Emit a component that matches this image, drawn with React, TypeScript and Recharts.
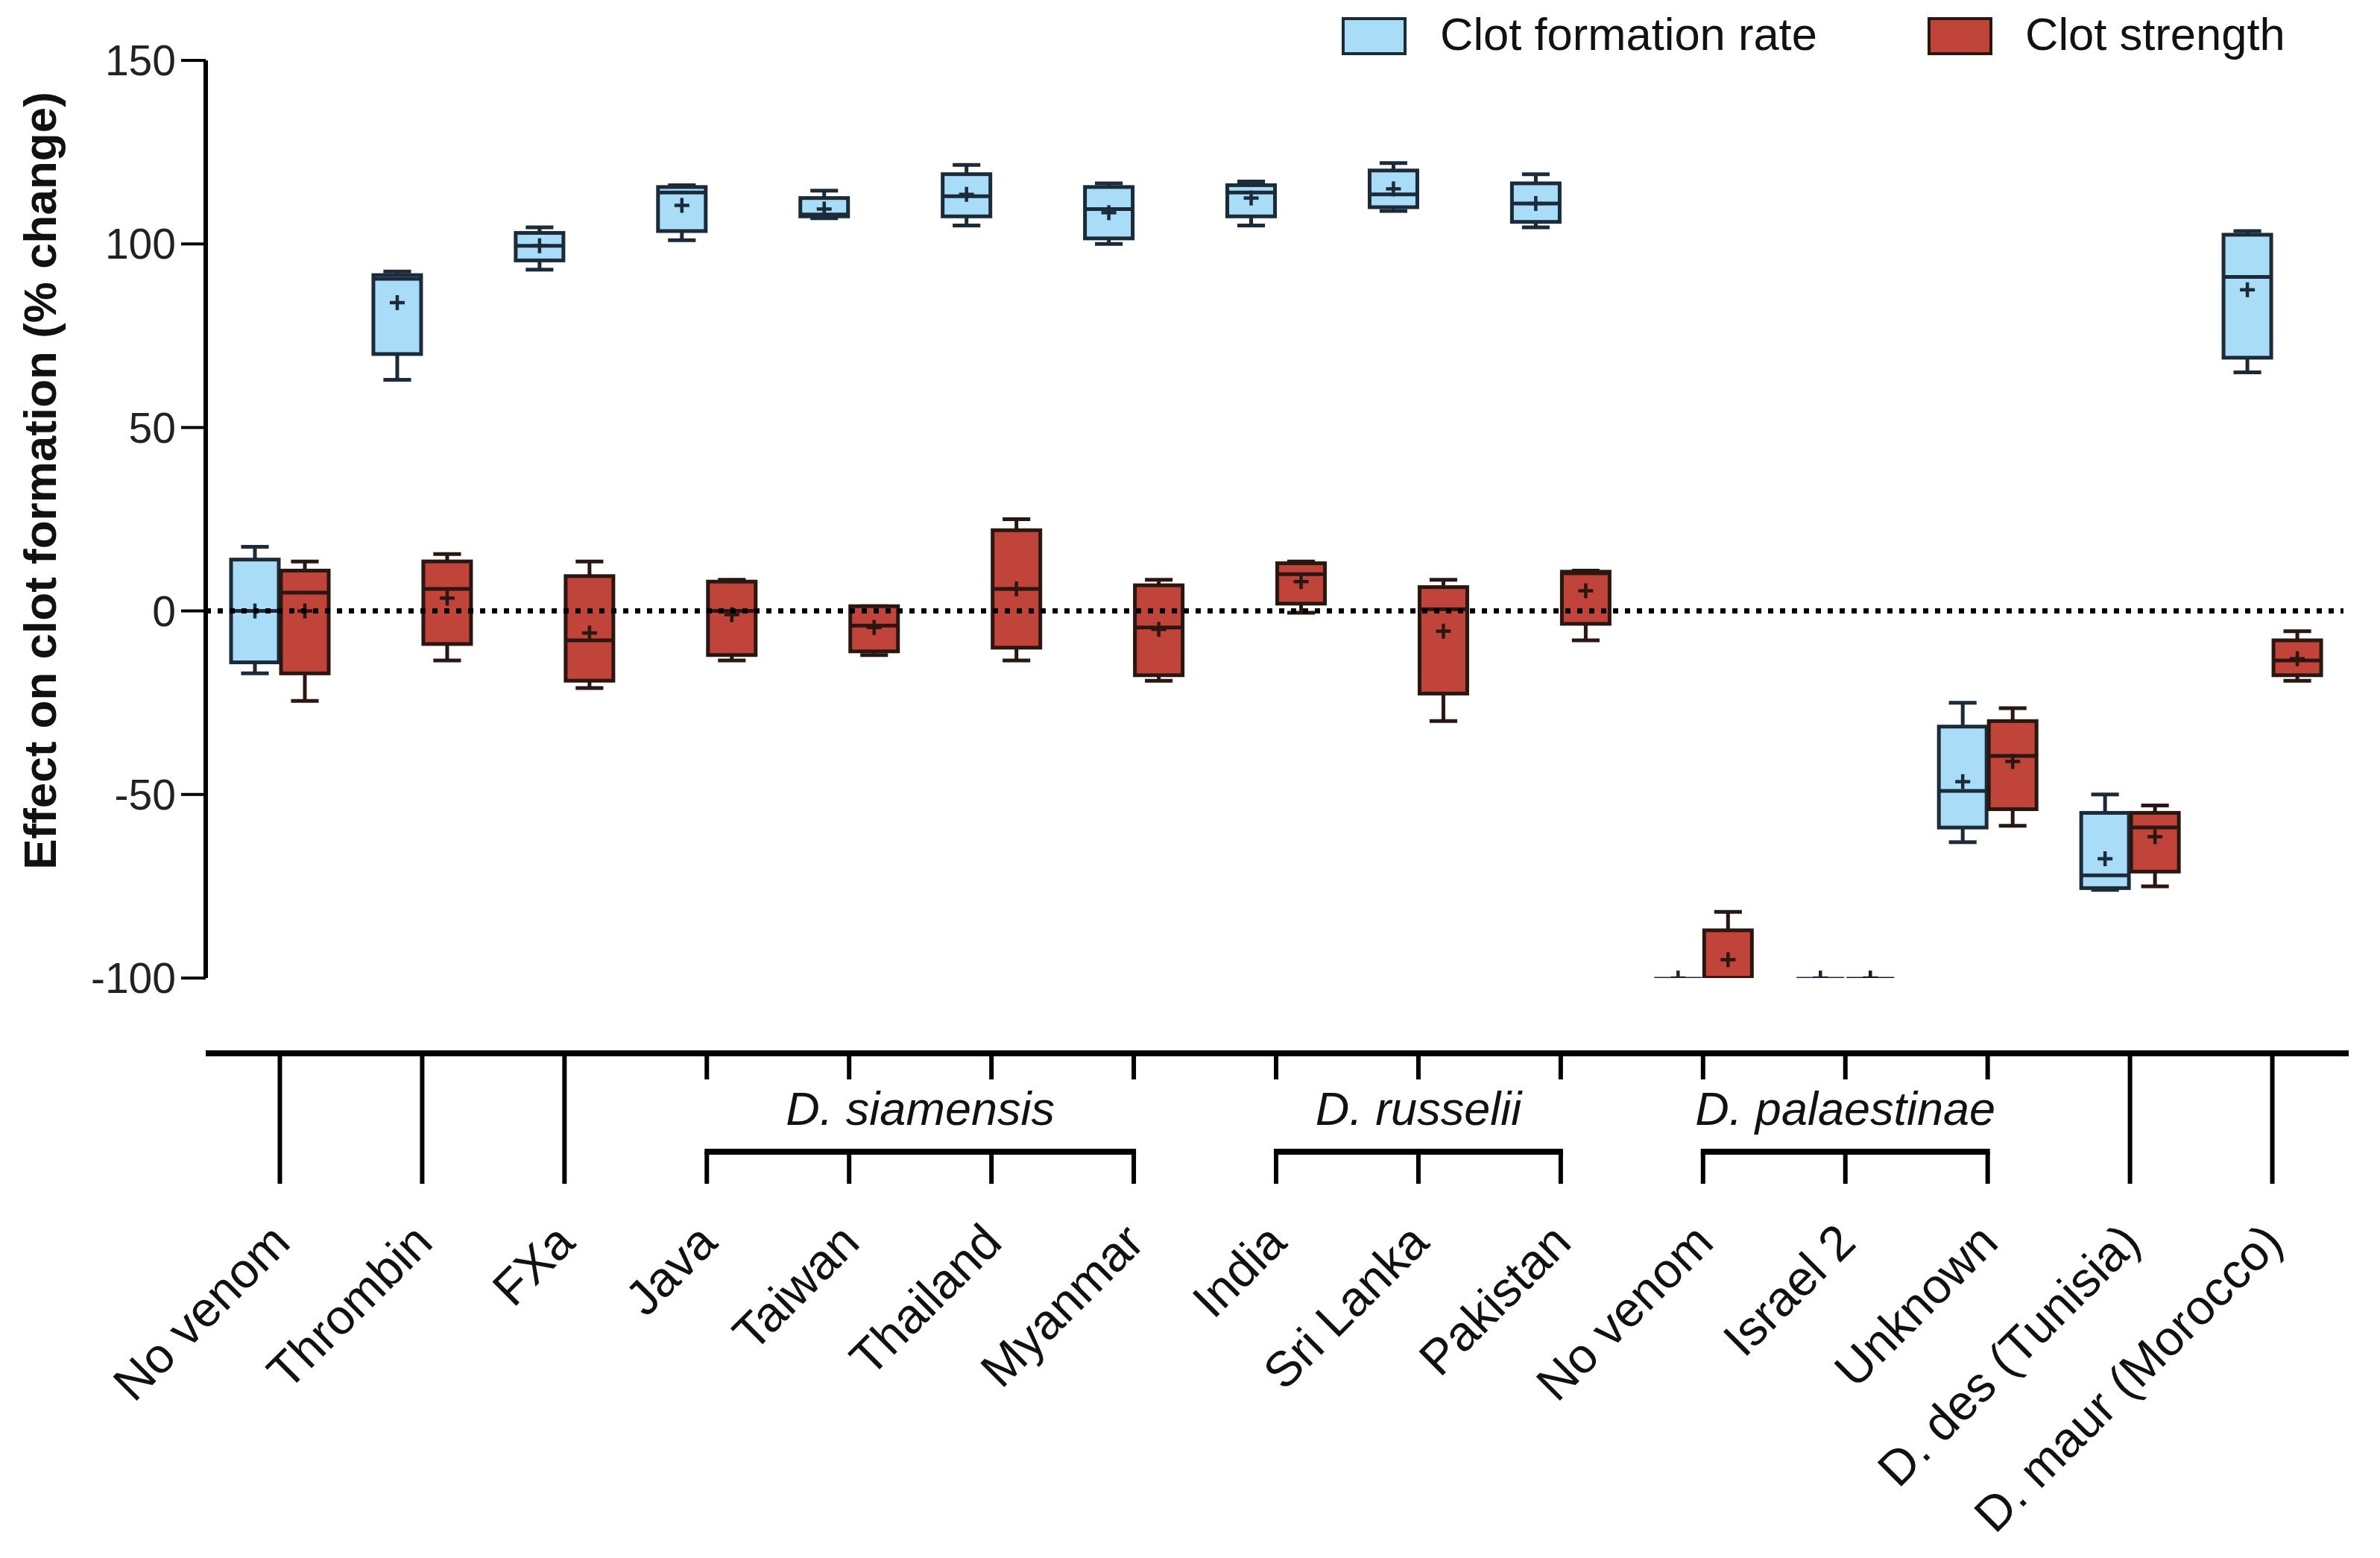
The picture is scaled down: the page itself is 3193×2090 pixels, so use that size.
import React from 'react';
import { ComposedChart, Bar, XAxis, YAxis, ReferenceLine, Legend } from 'recharts';

const categories = [
  'No venom', 'Thrombin', 'FXa', 'Java', 'Taiwan', 'Thailand', 'Myanmar',
  'India', 'Sri Lanka', 'Pakistan', 'No venom', 'Israel 2', 'Unknown',
  'D. des (Tunisia)', 'D. maur (Morocco)',
];

// species brackets under the axis (index ranges into categories)
const groups = [
  { name: 'D. siamensis', start: 3, end: 6 },
  { name: 'D. russelii', start: 7, end: 9 },
  { name: 'D. palaestinae', start: 10, end: 12 },
];

// clot formation rate (blue)
const rateMin = [-17, 63, 93, 101, 107, 105, 100, 105, 109, 104.5, -100, -100, -63, -76, 65];
const rateQ1 = [-14, 70, 95.5, 103.5, 107.5, 107.5, 101.5, 107.5, 110, 106, -100, -100, -59, -75.5, 69];
const rateMedian = [0, 90.5, 99.5, 114, 108, 113, 109.5, 114, 113.5, 111, -100, -100, -49, -72, 91];
const rateMean = [0, 84, 99.5, 110.5, 109.5, 113.5, 108.5, 112.5, 115, 111, -100, -100, -46.5, -67.5, 87.5];
const rateQ3 = [14, 91.5, 103, 115.5, 112.5, 119, 115.5, 116, 120, 116.5, -100, -100, -31.5, -55, 102.5];
const rateMax = [17.5, 92.5, 104.5, 116, 114.5, 121.5, 116.5, 117, 122, 119, -100, -100, -25, -50, 103.5];

// clot strength (red)
const strMin = [-24.5, -13.5, -21, -13.5, -12, -13.5, -19, -0.5, -30, -8, -100, -100, -58.5, -75, -19];
const strQ1 = [-17, -9, -19, -12, -11, -10, -17.5, 2, -22.5, -3.5, -100, -100, -54, -71, -17.5];
const strMedian = [5, 6, -8, 0, -4, 6, -4.5, 10, 0.5, 10.3, -100, -100, -39.5, -59, -13.5];
const strMean = [0, 3.5, -6, -1, -4.5, 6, -5, 8, -5.5, 5.5, -95, -100, -41, -61.5, -13];
const strQ3 = [11, 13.5, 9.5, 8, 1.3, 22, 7, 13, 6.5, 10.7, -87, -100, -30, -55, -8];
const strMax = [13.5, 15.5, 13.5, 8.5, 1.3, 25, 8.5, 13.5, 8.5, 11, -82, -100, -26.5, -53, -5.5];

const yTicks = [-100, -50, 0, 50, 100, 150];

const FONT = 'Liberation Sans, Arial, Helvetica, sans-serif';
const BLUE = '#a9ddf7';
const BLUE_EDGE = '#1c2b39';
const RED = '#c1443a';
const RED_EDGE = '#2a1712';

const CHART_W = 3177;
const CHART_H = 2074;
const LEGEND_H = 73;
const MARGIN = { top: 0, right: 41, left: 68, bottom: 70 };
const Y_AXIS_W = 200;
const X_AXIS_H = 700;
const X_PAD = 4;
const PLOT_W = CHART_W - MARGIN.left - Y_AXIS_W - MARGIN.right - X_PAD;
const BAND = PLOT_W / categories.length;
const AXIS_Y = 1405;

const data = categories.map((name, i) => ({
  key: `c${i}`,
  name,
  rateMin: rateMin[i], rateQ1: rateQ1[i], rateMedian: rateMedian[i],
  rateMean: rateMean[i], rateQ3: rateQ3[i], rateMax: rateMax[i],
  strMin: strMin[i], strQ1: strQ1[i], strMedian: strMedian[i],
  strMean: strMean[i], strQ3: strQ3[i], strMax: strMax[i],
}));

function makeBox(prefix: string, fill: string, edge: string) {
  return (p: any) => {
    const { x, y, width, height, payload } = p;
    const lo = payload[prefix + 'Min'];
    const hi = payload[prefix + 'Max'];
    const span = hi - lo;
    const py = (v: number) => (span === 0 ? y : y + ((hi - v) / span) * height);
    const cx = x + width / 2;
    const cap = width * 0.29;
    const q1 = py(payload[prefix + 'Q1']);
    const q3 = py(payload[prefix + 'Q3']);
    const med = py(payload[prefix + 'Median']);
    const mean = py(payload[prefix + 'Mean']);
    const flat = span === 0;
    const sw = 5;
    return (
      <g>
        <line x1={cx} x2={cx} y1={py(hi)} y2={q3} stroke={edge} strokeWidth={sw} />
        <line x1={cx} x2={cx} y1={q1} y2={py(lo)} stroke={edge} strokeWidth={sw} />
        {!flat && (
          <>
            <line x1={cx - cap} x2={cx + cap} y1={py(hi)} y2={py(hi)} stroke={edge} strokeWidth={sw} />
            <line x1={cx - cap} x2={cx + cap} y1={py(lo)} y2={py(lo)} stroke={edge} strokeWidth={sw} />
          </>
        )}
        <rect x={x} y={q3} width={width} height={Math.max(q1 - q3, 0)} fill={fill} stroke={edge} strokeWidth={flat ? 3 : sw} />
        <line x1={x} x2={x + width} y1={med} y2={med} stroke={edge} strokeWidth={flat ? 3 : sw} />
        <line x1={cx - 10} x2={cx + 10} y1={mean} y2={mean} stroke={edge} strokeWidth={4.5} />
        <line x1={cx} x2={cx} y1={mean - 10} y2={mean + 10} stroke={edge} strokeWidth={4.5} />
      </g>
    );
  };
}

function CategoryTick(props: any) {
  const { x, payload } = props;
  const i = props.index ?? payload.index;
  const group = groups.find((g) => i >= g.start && i <= g.end);
  const lx = x + 17;
  const ly = 1662;
  return (
    <g fontFamily={FONT}>
      {i === 0 && (
        <line x1={x - BAND / 2 - X_PAD} x2={x - BAND / 2 + PLOT_W + 7} y1={AXIS_Y} y2={AXIS_Y} stroke="#000" strokeWidth={8} />
      )}
      {group ? (
        <>
          <line x1={x} x2={x} y1={AXIS_Y} y2={1440} stroke="#000" strokeWidth={6} />
          <line x1={x} x2={x} y1={1537} y2={1580} stroke="#000" strokeWidth={6} />
          {i === group.start && (
            <>
              <line x1={x - 3} x2={x + (group.end - group.start) * BAND + 3} y1={1537} y2={1537} stroke="#000" strokeWidth={8} />
              <text x={x + ((group.end - group.start) * BAND) / 2} y={1501} textAnchor="middle" fontSize={63} fontStyle="italic" fill="#111">
                {group.name}
              </text>
            </>
          )}
        </>
      ) : (
        <line x1={x} x2={x} y1={AXIS_Y} y2={1580} stroke="#000" strokeWidth={6} />
      )}
      <text x={lx} y={ly} textAnchor="end" fontSize={66} fill="#111" transform={`rotate(-45, ${lx}, ${ly})`}>
        {categories[i]}
      </text>
    </g>
  );
}

function LegendContent() {
  return (
    <svg width={CHART_W} height={LEGEND_H} style={{ display: 'block' }} fontFamily={FONT}>
      <rect x={1794} y={17} width={83} height={47} fill={BLUE} stroke={BLUE_EDGE} strokeWidth={4} />
      <text x={1924} y={59} fontSize={61.5} fill="#111">Clot formation rate</text>
      <rect x={2580} y={17} width={83} height={47} fill={RED} stroke={RED_EDGE} strokeWidth={4} />
      <text x={2709} y={59} fontSize={61.5} fill="#111">Clot strength</text>
    </svg>
  );
}

function YLabel() {
  return (
    <text x={45} y={637} textAnchor="middle" fontSize={62} fontWeight="bold" fill="#111" fontFamily={FONT}
      transform="rotate(-90, 45, 637)" dominantBaseline="central">
      Effect on clot formation (% change)
    </text>
  );
}

export default function App() {
  return (
    <div style={{ width: CHART_W, height: CHART_H, background: '#fff' }}>
      <ComposedChart width={CHART_W} height={CHART_H} data={data} margin={MARGIN} barGap={3}>
        <Legend
          verticalAlign="top"
          content={() => <LegendContent />}
          wrapperStyle={{ top: 0, left: 0, width: CHART_W, height: LEGEND_H }}
        />
        <XAxis
          dataKey="key"
          type="category"
          height={X_AXIS_H}
          padding={{ left: X_PAD, right: 0 }}
          axisLine={false}
          tickLine={false}
          interval={0}
          tick={<CategoryTick />}
        />
        <YAxis
          width={Y_AXIS_W}
          domain={[-100, 150]}
          ticks={yTicks}
          allowDataOverflow
          axisLine={{ stroke: '#000', strokeWidth: 6 }}
          tickLine={{ stroke: '#000', strokeWidth: 4 }}
          tickSize={33}
          tickMargin={7}
          tick={{ fontSize: 57, fill: '#222', fontFamily: FONT }}
          label={<YLabel />}
        />
        <Bar
          dataKey={(d: any) => [d.rateMin, d.rateMax]}
          barSize={64}
          fill={BLUE}
          shape={makeBox('rate', BLUE, BLUE_EDGE)}
          isAnimationActive={false}
        />
        <Bar
          dataKey={(d: any) => [d.strMin, d.strMax]}
          barSize={64}
          fill={RED}
          shape={makeBox('str', RED, RED_EDGE)}
          isAnimationActive={false}
        />
        <ReferenceLine y={0} stroke="#000" strokeWidth={7} strokeDasharray="7 9" />
      </ComposedChart>
    </div>
  );
}
